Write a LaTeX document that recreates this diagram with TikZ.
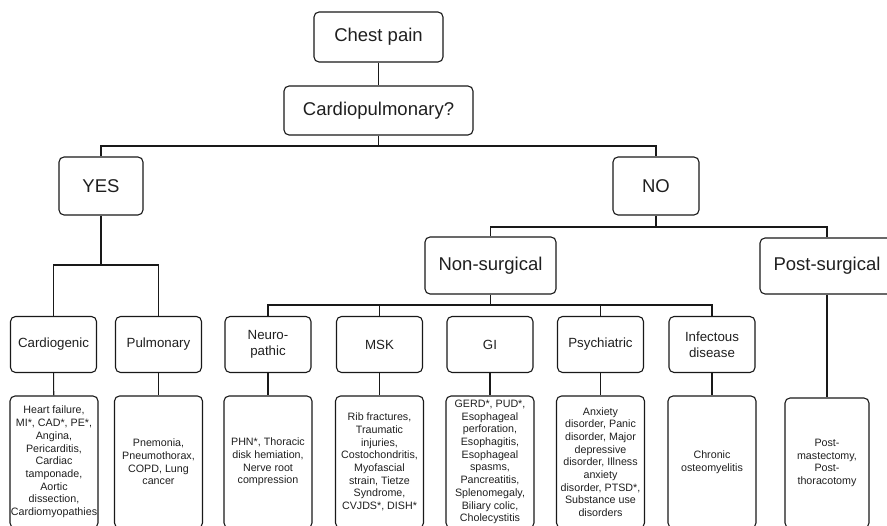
\documentclass[tikz,border=0pt]{standalone}
\usepackage{fontspec}
\setmainfont{Liberation Sans}
\begin{document}
\begin{tikzpicture}[x=1pt,y=-1pt,
  box/.style={draw=black!90, line width=1.1pt, rounded corners=5pt, align=center, inner sep=0pt, text=black!88},
  big/.style={box, font=\fontsize{18.5}{22}\selectfont},
  cat/.style={box, minimum width=86pt, minimum height=56pt, font=\fontsize{13.3}{16}\selectfont},
  det/.style={box, minimum width=88pt, minimum height=132pt, font=\fontsize{10.7}{12.7}\selectfont},
  conn/.style={draw=black!90, line width=1.1pt}]
\clip (0,0) rectangle (887,526);
\useasboundingbox (0,0) rectangle (887,526);
% top levels
\node[big, minimum width=129pt, minimum height=50pt] (chest) at (378.5,37) {Chest pain};
\node[big, minimum width=189pt, minimum height=49pt] (cardio) at (378.5,110.5) {Cardiopulmonary?};
\node[big, minimum width=84pt, minimum height=58pt] (yes) at (101,186) {YES};
\node[big, minimum width=86pt, minimum height=58pt] (no) at (656,186) {NO};
\node[big, minimum width=131pt, minimum height=57pt] (nons) at (490.5,265.5) {Non-surgical};
\node[big, minimum width=134pt, minimum height=56pt] (posts) at (827,266) {Post-surgical};
% categories
\node[cat] (cgen) at (53.5,344.5) {Cardiogenic};
\node[cat] (pulm) at (158.5,344.5) {Pulmonary};
\node[cat] (neuro) at (268,344.5) {Neuro-\\pathic};
\node[cat] (msk) at (379.5,344.5) {MSK};
\node[cat] (gi) at (490,344.5) {GI};
\node[cat] (psych) at (600.5,344.5) {Psychiatric};
\node[cat] (infect) at (712,344.5) {Infectous\\disease};
% details
\node[det] (dcgen) at (54,462) {Heart failure,\\MI*, CAD*, PE*,\\Angina,\\Pericarditis,\\Cardiac\\tamponade,\\Aortic\\dissection,\\Cardiomyopathies};
\node[det] (dpulm) at (158.5,462) {Pnemonia,\\Pneumothorax,\\COPD, Lung\\cancer};
\node[det] (dneuro) at (268,462) {PHN*, Thoracic\\disk hemiation,\\Nerve root\\compression};
\node[det] (dmsk) at (379.5,462) {Rib fractures,\\Traumatic\\injuries,\\Costochondritis,\\Myofascial\\strain, Tietze\\Syndrome,\\CVJDS*, DISH*};
\node[det] (dgi) at (490,462) {GERD*, PUD*,\\Esophageal\\perforation,\\Esophagitis,\\Esophageal\\spasms,\\Pancreatitis,\\Splenomegaly,\\Biliary colic,\\Cholecystitis};
\node[det] (dpsych) at (600.5,462) {Anxiety\\disorder, Panic\\disorder, Major\\depressive\\disorder, Illness\\anxiety\\disorder, PTSD*,\\Substance use\\disorders};
\node[det] (dinfect) at (712,462) {Chronic\\osteomyelitis};
\node[det, minimum width=84pt, minimum height=130pt] (dposts) at (827,463) {Post-\\mastectomy,\\Post-\\thoracotomy};
% connectors
\coordinate (b1) at (378.5,146);
\coordinate (b2) at (101,265);
\coordinate (b3) at (656,227);
\coordinate (b4) at (490.5,305);
\draw[conn] (chest) -- (cardio);
\draw[conn] (cardio) -- (b1);
\draw[conn] (yes.north) |- (b1) -| (no.north);
\draw[conn] (yes) -- (b2);
\draw[conn] (cgen.north) |- (b2) -| (pulm.north);
\draw[conn] (no) -- (b3);
\draw[conn] (nons.north) |- (b3) -| (posts.north);
\draw[conn] (nons) -- (b4);
\draw[conn] (neuro.north) |- (b4) -| (infect.north);
\draw[conn] (msk.north) -- (msk.north |- b4);
\draw[conn] (psych.north) -- (psych.north |- b4);
\foreach \c in {cgen,pulm,neuro,msk,gi,psych,infect,posts}{
  \draw[conn] (\c) -- (d\c);
}
\end{tikzpicture}
\end{document}
